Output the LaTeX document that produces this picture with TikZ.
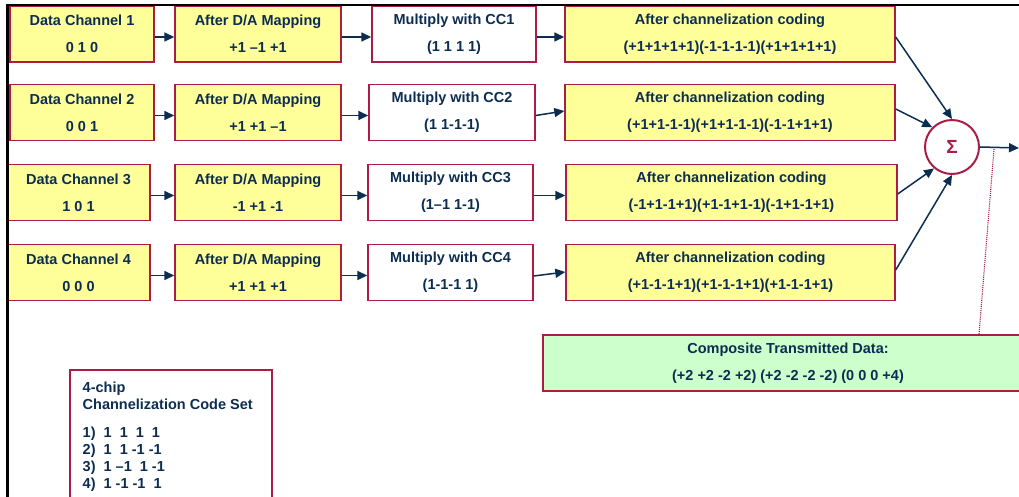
\documentclass[tikz,border=0pt]{standalone}
\usepackage{fontspec}
\setmainfont{Liberation Sans}
\usetikzlibrary{arrows.meta}
\definecolor{navy}{RGB}{12,45,82}
\definecolor{boxred}{RGB}{170,30,70}
\definecolor{boxyellow}{RGB}{255,255,153}
\definecolor{boxgreen}{RGB}{204,255,204}

\begin{document}
\begin{tikzpicture}[x=1pt,y=-1pt,line width=1.4pt,>={Triangle[length=10pt,width=9pt]},
  font=\fontsize{14.5}{17}\selectfont\bfseries,
  ybox/.style={draw=boxred,fill=boxyellow,text=navy,align=center,inner sep=0pt,minimum height=56pt},
  wbox/.style={ybox,fill=white},
  link/.style={->,draw=navy,line width=1.5pt}]
  \useasboundingbox (0,0) rectangle (1019,497);
  % fila 1
  \node[ybox,minimum width=144pt] (ch1) at (82,34) {Data Channel 1\\[10pt]0 1 0};
  \node[ybox,minimum width=166pt] (map1) at (258,34) {After D/A Mapping\\[10pt]+1 --1 +1};
  \node[wbox,minimum width=164pt] (mul1) at (454,34) {Multiply with CC1\\[10pt](1 1 1 1)};
  \node[ybox,minimum width=330pt] (cod1) at (730,34) {After channelization coding\\[10pt](+1+1+1+1)(-1-1-1-1)(+1+1+1+1)};
  % fila 2
  \node[ybox,minimum width=144pt] (ch2) at (82,112.5) {Data Channel 2\\[10pt]0 0 1};
  \node[ybox,minimum width=166pt] (map2) at (258,112.5) {After D/A Mapping\\[10pt]+1 +1 --1};
  \node[wbox,minimum width=166pt] (mul2) at (452,112.5) {Multiply with CC2\\[10pt](1 1-1-1)};
  \node[ybox,minimum width=330pt] (cod2) at (730,112.5) {After channelization coding\\[10pt](+1+1-1-1)(+1+1-1-1)(-1-1+1+1)};
  % fila 3
  \node[ybox,minimum width=143pt] (ch3) at (78.5,192.5) {Data Channel 3\\[10pt]1 0 1};
  \node[ybox,minimum width=166pt] (map3) at (258,192.5) {After D/A Mapping\\[10pt]-1 +1 -1};
  \node[wbox,minimum width=165pt] (mul3) at (450.5,192.5) {Multiply with CC3\\[10pt](1--1 1-1)};
  \node[ybox,minimum width=331pt] (cod3) at (731.5,192.5) {After channelization coding\\[10pt](-1+1-1+1)(+1-1+1-1)(-1+1-1+1)};
  % fila 4
  \node[ybox,minimum width=143pt] (ch4) at (78.5,272.5) {Data Channel 4\\[10pt]0 0 0};
  \node[ybox,minimum width=166pt] (map4) at (258,272.5) {After D/A Mapping\\[10pt]+1 +1 +1};
  \node[wbox,minimum width=165pt] (mul4) at (450.5,272.5) {Multiply with CC4\\[10pt](1-1-1 1)};
  \node[ybox,minimum width=329pt] (cod4) at (730.5,272.5) {After channelization coding\\[10pt](+1-1-1+1)(+1-1-1+1)(+1-1-1+1)};
  % flechas entre bloques
  \draw[link] ([yshift=-3pt]ch1.east) -- ([yshift=-3pt]map1.west);
  \draw[link] ([yshift=-3pt]map1.east) -- ([yshift=-3pt]mul1.west);
  \draw[link] ([yshift=-3pt]mul1.east) -- ([yshift=-3pt]cod1.west);
  \draw[link] ([yshift=-3pt]ch2.east) -- ([yshift=-3pt]map2.west);
  \draw[link] ([yshift=-3pt]map2.east) -- ([yshift=-3pt]mul2.west);
  \draw[link] ([yshift=-3pt]mul2.east) -- ([yshift=1.5pt]cod2.west);
  \draw[link] ([yshift=-3pt]ch3.east) -- ([yshift=-3pt]map3.west);
  \draw[link] ([yshift=-3pt]map3.east) -- ([yshift=-3pt]mul3.west);
  \draw[link] ([yshift=-3pt]mul3.east) -- ([yshift=-3pt]cod3.west);
  \draw[link] ([yshift=-3pt]ch4.east) -- ([yshift=-3pt]map4.west);
  \draw[link] ([yshift=-3pt]map4.east) -- ([yshift=-3pt]mul4.west);
  \draw[link] ([yshift=-3.5pt]mul4.east) -- ([yshift=0.5pt]cod4.west);
  % sumador
  \node[circle,draw=boxred,line width=2pt,fill=white,minimum size=54pt,inner sep=0pt,text=boxred,
    font=\fontsize{19}{19}\selectfont\bfseries] (sum) at (952,147) {Σ};
  \draw[link] ([yshift=-3pt]cod1.east) -- (sum.north);
  \draw[link] ([yshift=3.5pt]cod2.east) -- (sum.135);
  \draw[link] ([yshift=-1.5pt]cod3.east) -- (sum.230);
  \draw[link] ([yshift=2.5pt]cod4.east) -- (sum.south);
  \coordinate (out) at (1019,148);
  \draw[link] (sum.east) -- (out);
  % resultado
  \node[ybox,fill=boxgreen,minimum width=490pt] (comp) at (788,363)
    {Composite Transmitted Data:\\[10pt](+2 +2 -2 +2) (+2 -2 -2 -2) (0 0 0 +4)};
  \coordinate (dtop) at (994,149);
  \draw[boxred,densely dotted,line width=1.1pt] (dtop) -- (comp.north -| 979,0);
  % conjunto de codigos
  \draw[boxred] (70,370) rectangle (272,510);
  \node[anchor=north west,inner sep=0pt,align=left,text=navy] (codes) at (82,381)
    {4-chip\\Channelization Code Set\\[11pt]1)\ \ 1\ \ 1\ \ 1\ \ 1\\2)\ \ 1\ \ 1 -1 -1\\3)\ \ 1 --1\ \ 1 -1\\4)\ \ 1 -1 -1\ \ 1};
  % marco
  \draw[line width=2.2pt] (7.5,497) -- (7.5,5) -- (1019,5);
\end{tikzpicture}
\end{document}
